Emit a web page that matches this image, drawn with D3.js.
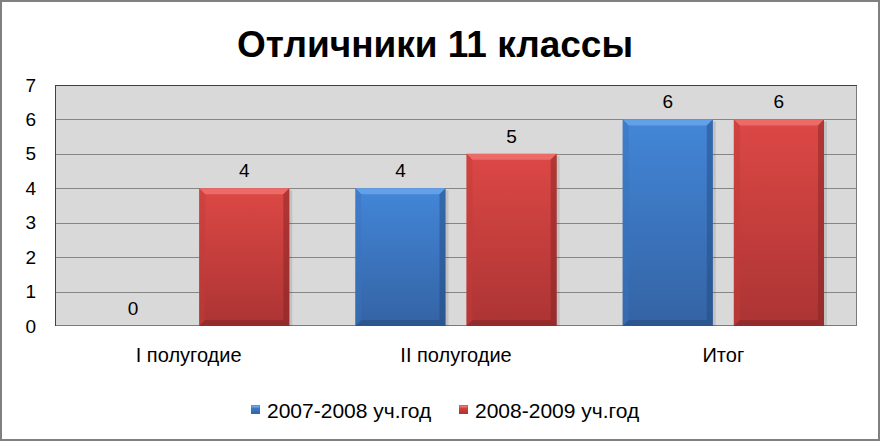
<!DOCTYPE html>
<html><head><meta charset="utf-8">
<script src="https://cdn.jsdelivr.net/npm/d3@7"></script>
<style>body{margin:0;background:#fff}svg{display:block}</style>
</head><body>
<script>
const title = "Отличники 11 классы";
const categories = ["I полугодие", "II полугодие", "Итог"];
const seriesNames = ["2007-2008 уч.год", "2008-2009 уч.год"];
const series2007 = [0, 4, 6];
const series2008 = [4, 5, 6];
const yTicks = [0, 1, 2, 3, 4, 5, 6, 7];

const W = 881, H = 441;
const plot = {l: 55, t: 85, r: 857, b: 326};
const svg = d3.select("body").append("svg").attr("width", W).attr("height", H);
const defs = svg.append("defs");
const palettes = [
  {top: "#4386d8", bot: "#3463a4", light: "#6aa6ec", dark: "#22477a", side: "#3a74bd"},
  {top: "#dc4845", bot: "#ac3434", light: "#f07370", dark: "#7e2222", side: "#c03c3a"}
];
palettes.forEach((p, i) => {
  const g = defs.append("linearGradient").attr("id", "g" + i).attr("x1", 0).attr("y1", 0).attr("x2", 0).attr("y2", 1);
  g.append("stop").attr("offset", 0).attr("stop-color", p.top);
  g.append("stop").attr("offset", 1).attr("stop-color", p.bot);
});

svg.append("rect").attr("x", 1).attr("y", 1).attr("width", W - 3).attr("height", H - 2)
  .attr("fill", "#fff").attr("stroke", "#808080").attr("stroke-width", 2);

svg.append("text").attr("x", 435).attr("y", 57).attr("text-anchor", "middle")
  .attr("font-family", "Liberation Sans, Arial, sans-serif").attr("font-weight", "bold")
  .attr("font-size", 37).attr("fill", "#000").text(title);

const y = d3.scaleLinear().domain([0, 7]).range([plot.b, plot.t]);
const x0 = d3.scaleBand().domain(categories).range([plot.l, plot.r]).paddingInner(0).paddingOuter(0);
const x1 = d3.scaleBand().domain([0, 1]).range([0, x0.bandwidth()]).paddingInner(0.189).paddingOuter(0.297);

svg.append("rect").attr("x", plot.l).attr("y", plot.t).attr("width", plot.r - plot.l).attr("height", plot.b - plot.t)
  .attr("fill", "#d9d9d9");

svg.append("g").selectAll("line").data(yTicks.filter(d => d > 0 && d < 7)).join("line")
  .attr("x1", plot.l).attr("x2", plot.r).attr("y1", d => Math.round(y(d)) + 0.5).attr("y2", d => Math.round(y(d)) + 0.5)
  .attr("stroke", "#868686").attr("stroke-width", 1);

svg.append("rect").attr("x", plot.l + 0.5).attr("y", plot.t + 0.5).attr("width", plot.r - plot.l - 1).attr("height", plot.b - plot.t - 1)
  .attr("fill", "none").attr("stroke", "#7a7a7a").attr("stroke-width", 1);
svg.append("line").attr("x1", plot.l + 0.5).attr("x2", plot.l + 0.5).attr("y1", plot.t).attr("y2", plot.b).attr("stroke", "#404040");
svg.append("line").attr("x1", plot.l).attr("x2", plot.r).attr("y1", plot.t + 0.5).attr("y2", plot.t + 0.5).attr("stroke", "#404040");

const yAxis = d3.axisLeft(y).tickValues(yTicks).tickFormat(d3.format("d")).tickSize(0).tickPadding(0);
const ya = svg.append("g").attr("transform", `translate(${plot.l - 19},0)`).call(yAxis);
ya.select(".domain").remove();
ya.selectAll("text").attr("font-family", "Liberation Sans, Arial, sans-serif").attr("font-size", 19).attr("fill", "#000");

const xAxis = d3.axisBottom(x0).tickSize(0).tickPadding(0);
const xa = svg.append("g").attr("transform", `translate(0,${plot.b + 22})`).call(xAxis);
xa.select(".domain").remove();
xa.selectAll("text").attr("font-family", "Liberation Sans, Arial, sans-serif").attr("font-size", 20).attr("fill", "#000");

const data = [];
categories.forEach((c, ci) => {
  [series2007, series2008].forEach((s, si) => data.push({c, si, v: s[ci]}));
});

const bars = svg.append("g").selectAll("g").data(data).join("g");
bars.each(function(d) {
  const g = d3.select(this);
  const bx = x0(d.c) + x1(d.si), bw = x1.bandwidth();
  const by = y(d.v), bh = y(0) - y(d.v);
  const p = palettes[d.si];
  if (bh > 0) {
    const e = Math.min(6, bh / 2);
    g.append("rect").attr("x", bx + 3).attr("y", by + 2).attr("width", bw).attr("height", bh - 2)
      .attr("fill", "#000").attr("opacity", 0.1);
    g.append("rect").attr("x", bx).attr("y", by).attr("width", bw).attr("height", bh).attr("fill", `url(#g${d.si})`);
    const x2 = bx + bw, y2 = by + bh;
    g.append("polygon").attr("points", `${bx},${by} ${x2},${by} ${x2 - e},${by + e} ${bx + e},${by + e}`).attr("fill", p.light).attr("opacity", 0.8);
    g.append("polygon").attr("points", `${bx},${by} ${bx + e},${by + e} ${bx + e},${y2 - e} ${bx},${y2}`).attr("fill", p.side).attr("opacity", 0.45);
    g.append("polygon").attr("points", `${x2},${by} ${x2},${y2} ${x2 - e},${y2 - e} ${x2 - e},${by + e}`).attr("fill", p.dark).attr("opacity", 0.45);
    g.append("polygon").attr("points", `${bx},${y2} ${x2},${y2} ${x2 - e},${y2 - e} ${bx + e},${y2 - e}`).attr("fill", p.dark).attr("opacity", 0.5);
  }
  g.append("text").attr("x", bx + bw / 2).attr("y", by - 11).attr("text-anchor", "middle")
    .attr("font-family", "Liberation Sans, Arial, sans-serif").attr("font-size", 19).attr("fill", "#000").text(d.v);
});

const legend = svg.append("g");
const legX = [251, 459];
seriesNames.forEach((n, i) => {
  const lg = legend.append("g").attr("transform", `translate(${legX[i]},0)`);
  lg.append("rect").attr("x", 0).attr("y", 405).attr("width", 9).attr("height", 9).attr("fill", `url(#g${i})`);
  lg.append("rect").attr("x", 0.5).attr("y", 405.5).attr("width", 8).attr("height", 2).attr("fill", palettes[i].light);
  lg.append("text").attr("x", 16).attr("y", 418).attr("font-family", "Liberation Sans, Arial, sans-serif")
    .attr("font-size", 21).attr("fill", "#000").text(n);
});
</script>
</body></html>
